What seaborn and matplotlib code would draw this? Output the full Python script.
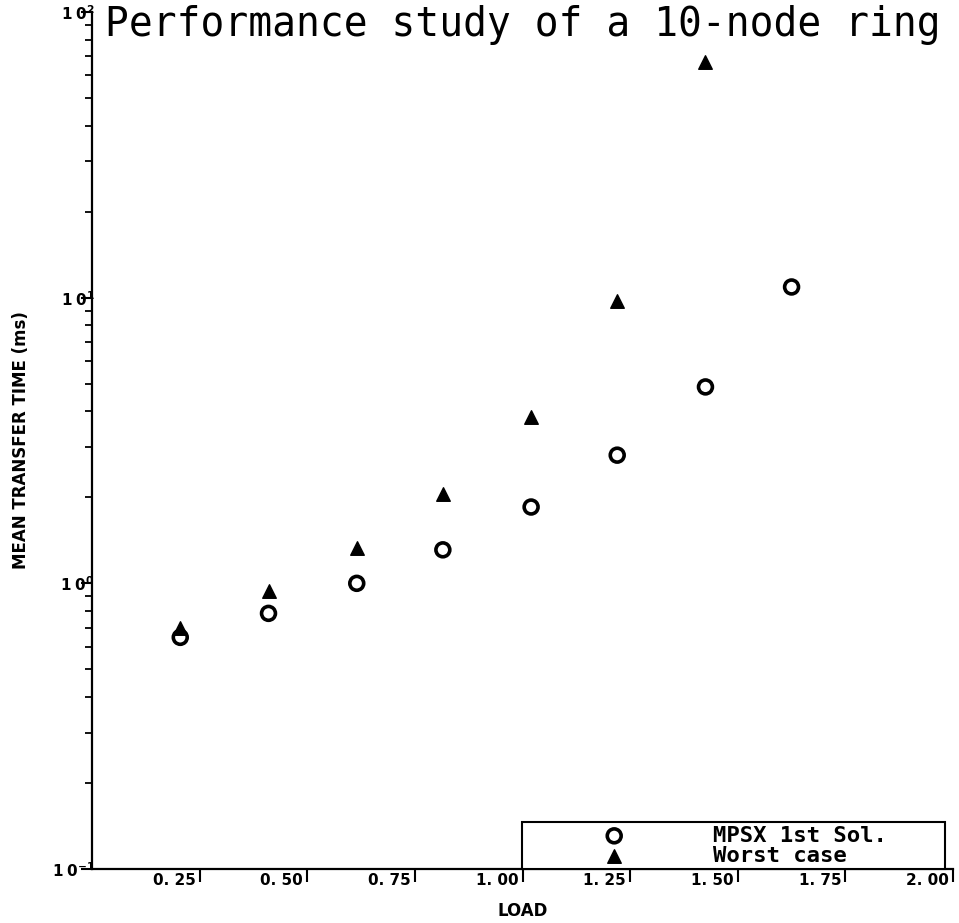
import matplotlib
matplotlib.use("Agg")
import matplotlib.pyplot as plt
import matplotlib.transforms as mtransforms
import seaborn as sns
import pandas as pd

# ---- data ----
load_mpsx = [0.205, 0.41, 0.615, 0.815, 1.02, 1.22, 1.425, 1.625]
mpsx_time = [0.647, 0.785, 1.0, 1.31, 1.85, 2.81, 4.87, 10.9]
load_worst = [0.205, 0.41, 0.615, 0.815, 1.02, 1.22, 1.425]
worst_time = [0.695, 0.937, 1.33, 2.05, 3.82, 9.76, 66.8]
x_ticks = [0.25, 0.50, 0.75, 1.00, 1.25, 1.50, 1.75, 2.00]
x_tick_labels = ["0. 25", "0. 50", "0. 75", "1. 00", "1. 25", "1. 50", "1. 75", "2. 00"]
y_ticks = [0.1, 1, 10, 100]
y_tick_labels = [r"$\mathbf{1\;0^{-1}}$", r"$\mathbf{1\;0^{0}}$", r"$\mathbf{1\;0^{1}}$", r"$\mathbf{1\;0^{2}}$"]
series_names = ["MPSX 1st Sol.", "Worst case"]

sns.set_style("ticks")
plt.rcParams["font.family"] = ["DejaVu Sans"]
for key in ["text.color", "axes.labelcolor", "xtick.color", "ytick.color", "axes.edgecolor"]:
    plt.rcParams[key] = "black"

df_m = pd.DataFrame({"load": load_mpsx, "time": mpsx_time})
df_w = pd.DataFrame({"load": load_worst, "time": worst_time})

fig = plt.figure(figsize=(9.59, 9.23), dpi=100)
ax = fig.add_axes([92 / 959, 1 - 869 / 923, 861 / 959, 857 / 923])

sns.scatterplot(data=df_m, x="load", y="time", ax=ax, marker="o", s=100,
                facecolors="none", edgecolor="black", linewidth=2.6,
                label=series_names[0])
sns.scatterplot(data=df_w, x="load", y="time", ax=ax, marker="^", s=95,
                color="black", edgecolor="black", linewidth=1.0,
                label=series_names[1])

ax.set_yscale("log")
ax.set_ylim(0.1, 100)
ax.set_xlim(0, 2.0)

for side in ["top", "right"]:
    ax.spines[side].set_visible(False)
for side in ["left", "bottom"]:
    ax.spines[side].set_linewidth(1.6)
    ax.spines[side].set_color("black")

ax.set_xticks(x_ticks)
ax.set_xticklabels(x_tick_labels, fontsize=11, fontweight="bold")
ax.tick_params(axis="x", direction="out", length=9, width=1.5, pad=-6, colors="black")
offset = mtransforms.ScaledTranslation(-4 / 100, 0, fig.dpi_scale_trans)
for lbl in ax.get_xticklabels():
    lbl.set_horizontalalignment("right")
    lbl.set_transform(lbl.get_transform() + offset)

ax.set_yticks(y_ticks)
ax.set_yticklabels(y_tick_labels, fontsize=11)
ax.tick_params(axis="y", which="major", direction="out", length=8, width=1.5, pad=-10, colors="black")
ax.tick_params(axis="y", which="minor", direction="out", length=5, width=1.3, colors="black")
ax.set_yticks([m * 10.0 ** e for e in (-1, 0, 1) for m in range(2, 10)], minor=True)
ax.yaxis.set_minor_formatter(matplotlib.ticker.NullFormatter())

ax.set_xlabel("LOAD", fontsize=12, fontweight="bold")
ax.xaxis.set_label_coords(0.5, -0.038)
ax.set_ylabel("MEAN TRANSFER TIME (ms)", fontsize=12, fontweight="bold")
ax.yaxis.set_label_coords(-0.072, 0.5)

fig.text(105 / 959, 1 - 25 / 923, "Performance study of a 10-node ring",
         fontsize=28.5, family="DejaVu Sans Mono", ha="left", va="center", color="black")

leg = ax.legend(loc="lower left", bbox_to_anchor=(0.4994, 0.0, 0.491, 0.062),
                mode="expand", borderaxespad=0, frameon=True, fancybox=False,
                edgecolor="black", framealpha=1,
                prop={"family": "DejaVu Sans Mono", "weight": "bold", "size": 16},
                handlelength=8.0, handletextpad=0.45, borderpad=0.15, labelspacing=0.0)
leg.get_frame().set_linewidth(1.5)
for t in leg.get_texts():
    t.set_color("black")

fig.savefig("out.png", dpi=100)
